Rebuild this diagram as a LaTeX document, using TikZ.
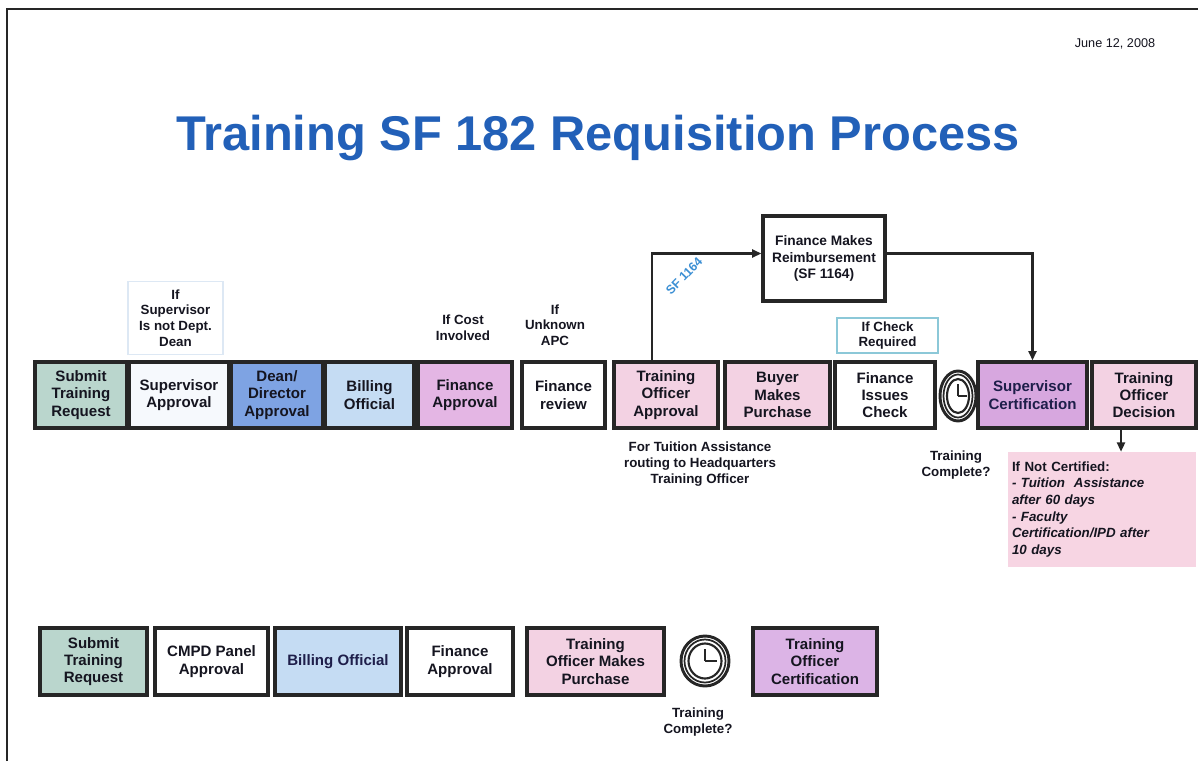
\documentclass[tikz,border=0pt]{standalone}
\usepackage{fontspec}
\setmainfont{Liberation Sans}
\usetikzlibrary{arrows.meta,calc,shapes.geometric}
\definecolor{bordc}{HTML}{262626}
\definecolor{txt}{HTML}{151520}
\definecolor{navy}{HTML}{1E1E4A}
\definecolor{titleblue}{HTML}{2260B8}
\definecolor{sfblue}{HTML}{3B8FD4}
\definecolor{cteal}{HTML}{BAD6CD}
\definecolor{cwhite}{HTML}{F6F9FD}
\definecolor{cdean}{HTML}{7EA3E3}
\definecolor{cbill}{HTML}{C5DCF3}
\definecolor{cfin}{HTML}{E4B6E4}
\definecolor{cpink}{HTML}{F3D2E3}
\definecolor{cpurp}{HTML}{D7A7DF}
\definecolor{cpurp2}{HTML}{DCB4E6}
\definecolor{cnote}{HTML}{F7D5E3}
\definecolor{ccyan}{HTML}{8CC8D8}
\definecolor{cfaint}{HTML}{DDE8F4}
\begin{document}
\begin{tikzpicture}[x=0.75pt,y=-0.75pt,
  box/.style={draw=bordc, line width=2.4pt, align=center, text=txt,
    font=\bfseries\fontsize{11.3}{13}\selectfont, inner sep=1pt},
  topbox/.style={box, minimum height=49.5pt},
  botbox/.style={box, minimum height=50.25pt},
  lbl/.style={align=center, text=txt, font=\bfseries\fontsize{10}{11.8}\selectfont, inner sep=1pt},
  arr/.style={line width=1.6pt, draw=bordc, -{Triangle[length=7pt,width=6pt]}},
  clockface/.style={ellipse, draw=bordc, line width=2.2pt, inner sep=0pt}
]
\useasboundingbox (0,0) rectangle (1202,761);
\fill[white] (0,0) rectangle (1202,761);
% frame
\draw[line width=1.6pt, draw=bordc] (7,761) -- (7,9) -- (1198,9);

% title and date
\node[anchor=base, text=titleblue, font=\bfseries\fontsize{36.6}{40}\selectfont, inner sep=0pt] (title) at (598,150) {Training SF 182 Requisition Process};
\node[anchor=base, text=txt, font=\fontsize{9.5}{11}\selectfont, inner sep=0pt] (date) at (1115,47) {June 12, 2008};

% top row
\node[topbox, fill=cteal, minimum width=69pt] (str) at (81,395) {Submit\\Training\\Request};
\node[topbox, fill=cwhite, minimum width=75pt] (sa) at (179,395) {Supervisor\\Approval};
\node[topbox, fill=cdean, minimum width=69pt] (dda) at (277,395) {Dean/\\Director\\Approval};
\node[topbox, fill=cbill, minimum width=66.75pt] (bo) at (369.5,395) {Billing\\Official};
\node[topbox, fill=cfin, minimum width=70.5pt] (fa) at (465,395) {Finance\\Approval};
\node[topbox, fill=white, minimum width=62.25pt] (fr) at (563.5,395) {Finance\\review};
\node[topbox, fill=cpink, minimum width=78pt] (toa) at (666,395) {Training\\Officer\\Approval};
\node[topbox, fill=cpink, minimum width=78.75pt] (bmp) at (777.5,395) {Buyer\\Makes\\Purchase};
\node[topbox, fill=white, minimum width=75pt] (fic) at (885,395) {Finance\\Issues\\Check};
\node[topbox, fill=cpurp, minimum width=81.75pt, text=navy] (sc) at (1032.5,395) {Supervisor\\Certification};
\node[topbox, fill=cpink, minimum width=78pt] (tod) at (1144,395) {Training\\Officer\\Decision};

% clock top
\node[clockface, minimum width=27pt, minimum height=37.5pt] (ck1) at (958,396) {};
\draw[bordc, line width=1.3pt] (ck1.center) ellipse [x radius=14.5, y radius=21.5];
\draw[bordc, line width=1.6pt] (ck1.center) ellipse [x radius=11, y radius=17];
\draw[bordc, line width=1.4pt] (ck1.center) -- ++(0,-12) (ck1.center) -- ++(9,0);
\node[lbl] (tc1) at (956,465) {Training\\Complete?};

% Finance makes reimbursement
\node[box, fill=white, minimum width=91.5pt, minimum height=63.75pt, font=\bfseries\fontsize{10.3}{12.3}\selectfont] (fmr) at (824,258.5) {Finance Makes\\Reimbursement\\(SF 1164)};
\node[draw=ccyan, line width=1.4pt, fill=white, minimum width=75.75pt, minimum height=26.25pt, lbl] (icr) at (887.5,335.5) {If Check\\Required};

% faint box label
\node[draw=cfaint, line width=0.8pt, minimum width=71.25pt, minimum height=54.75pt, lbl] (isd) at (175.5,318) {If\\Supervisor\\Is not Dept.\\Dean};
\node[lbl] (icost) at (463,328) {If Cost\\Involved};
\node[lbl] (iapc) at (555,325) {If\\Unknown\\APC};
\node[lbl] (tuit) at (700,464) {For Tuition Assistance\\routing to Headquarters\\Training Officer};

% connectors
\draw[arr] ($(toa.north)+(-14,0)$) |- ($(fmr.west)+(0,-5)$);
\node[rotate=46, text=sfblue, font=\bfseries\fontsize{9.3}{11}\selectfont, inner sep=0pt] (sf) at (684,276) {SF 1164};
\draw[arr] ($(fmr.east)+(0,-5)$) -| (sc.north);

% note
\node[fill=cnote, minimum width=141pt, minimum height=86.25pt, text width=135pt, align=left, inner sep=3pt, text=txt, font=\bfseries\fontsize{10}{12.5}\selectfont] (note) at (1102,509.5)
 {If Not Certified:\\{\itshape - Tuition\ \ Assistance}\\{\itshape after 60 days}\\{\itshape - Faculty}\\{\itshape Certification/IPD after}\\{\itshape 10 days}};
\coordinate (t1) at ($(tod.south)+(-23,0)$);
\draw[arr] (t1) -- (t1 |- note.north);

% bottom row
\node[botbox, fill=cteal, minimum width=80.25pt] (bstr) at (93.5,661.5) {Submit\\Training\\Request};
\node[botbox, fill=white, minimum width=84.75pt] (cmpd) at (211.5,661.5) {CMPD Panel\\Approval};
\node[botbox, fill=cbill, minimum width=94.5pt, text=navy] (bbo) at (338,661.5) {Billing Official};
\node[botbox, fill=white, minimum width=79.5pt] (bfa) at (460,661.5) {Finance\\Approval};
\node[botbox, fill=cpink, minimum width=102.75pt] (tomp) at (595.5,661.5) {Training\\Officer Makes\\Purchase};
\node[botbox, fill=cpurp2, minimum width=93pt] (toc) at (815,661.5) {Training\\Officer\\Certification};

% clock bottom
\node[clockface, minimum width=36pt, minimum height=37.5pt] (ck2) at (705,661) {};
\draw[bordc, line width=1.3pt] (ck2.center) ellipse [x radius=20.5, y radius=21.5];
\draw[bordc, line width=1.6pt] (ck2.center) ellipse [x radius=16.5, y radius=17.5];
\draw[bordc, line width=1.4pt] (ck2.center) -- ++(0,-12) (ck2.center) -- ++(12,0);
\node[lbl] (tc2) at (698,722) {Training\\Complete?};
\end{tikzpicture}
\end{document}
